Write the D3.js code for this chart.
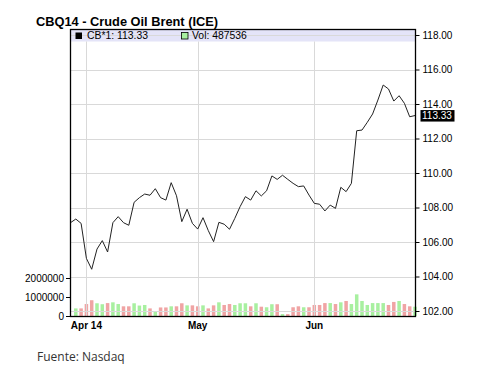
<!DOCTYPE html>
<html>
<head>
<meta charset="utf-8">
<script src="https://cdn.jsdelivr.net/npm/d3@7"></script>
<style>
  body { margin: 0; background: #fff; }
  svg text { font-family: "Liberation Sans", Arial, sans-serif; }
</style>
</head>
<body>
<div id="chart"></div>
<script>
// daily settlement, CBQ14 (late Mar .. late Jun 2014)
const prices = [107.12, 107.33, 107.08, 105.05, 104.42, 105.59, 106.08, 105.42, 107.12, 107.47,
  107.12, 106.97, 108.30, 108.57, 108.78, 108.71, 109.09, 108.57, 108.43, 109.44,
  108.68, 107.18, 107.90, 107.08, 106.75, 107.41, 106.66, 106.02, 107.14, 107.03,
  106.74, 107.37, 108.05, 108.63, 108.43, 108.97, 108.67, 108.97, 109.83, 109.63,
  109.87, 109.63, 109.40, 109.21, 109.25, 108.72, 108.24, 108.19, 107.80, 108.14,
  107.95, 109.17, 108.92, 109.40, 112.45, 112.49, 112.94, 113.42, 114.23, 115.10,
  114.87, 114.17, 114.48, 114.04, 113.26, 113.33]

const volumes = [null, 400000, 400000, 630000, 830000, 670000, 620000, 680000, 720000, 630000,
  510000, 510000, 670000, 550000, 580000, 400000, 230000, 450000, 450000, 510000,
  510000, 670000, 560000, 560000, 510000, 560000, 400000, 560000, 720000, 580000,
  630000, 580000, 670000, 670000, 510000, 670000, 490000, 460000, 620000, 620000,
  100000, 100000, 460000, 510000, 460000, 460000, 580000, 580000, 680000, 680000,
  630000, 720000, 790000, 630000, 1140000, 790000, 580000, 680000, 680000, 680000,
  580000, 740000, 790000, 630000, 510000, 487536]

const monthIdx = [3, 24, 46]
const monthLabels = ['Apr 14', 'May', 'Jun']
const priceTicks = [102, 104, 106, 108, 110, 112, 114, 116, 118]
const volTicks = [0, 1000000, 2000000]

const W = 480, H = 387
const m = {left: 70, right: 415, top: 29, bottom: 316}

const svg = d3.select('#chart').append('svg')
    .attr('width', W).attr('height', H)

svg.append('text')
    .attr('x', 36).attr('y', 25.5)
    .attr('font-size', 12.8).attr('font-weight', 'bold')
    .text('CBQ14 - Crude Oil Brent (ICE)')

const x = d3.scaleLinear().domain([0, prices.length - 1]).range([m.left + 0.5, m.right])
const y = d3.scaleLinear().domain([102, 118]).range([311, 35])
const yv = d3.scaleLinear().domain([0, 2000000]).range([m.bottom, 278])

// legend band
svg.append('rect')
    .attr('x', m.left).attr('y', m.top)
    .attr('width', m.right - m.left).attr('height', 12.5)
    .attr('fill', '#e4e4f8')

// volume bars
svg.append('g').selectAll('rect')
    .data(volumes.map((v, i) => ({v, i})).filter(d => d.v != null))
    .join('rect')
    .attr('x', d => x(d.i) - 1.75)
    .attr('width', 3.5)
    .attr('y', d => yv(d.v))
    .attr('height', d => m.bottom - yv(d.v))
    .attr('fill', d => prices[d.i] >= prices[d.i - 1] ? '#a8f0a0' : '#f0a4a4')

// grid
svg.append('g').selectAll('line')
    .data(priceTicks)
    .join('line')
    .attr('x1', m.left).attr('x2', m.right)
    .attr('y1', d => Math.round(y(d)) + 0.5).attr('y2', d => Math.round(y(d)) + 0.5)
    .attr('stroke', '#d9d9d9')

svg.append('g').selectAll('line')
    .data(monthIdx)
    .join('line')
    .attr('x1', d => Math.round(x(d)) + 0.5).attr('x2', d => Math.round(x(d)) + 0.5)
    .attr('y1', m.top + 12.5).attr('y2', m.bottom)
    .attr('stroke', '#d9d9d9')

// price line
const line = d3.line()
    .x((d, i) => x(i))
    .y(d => y(d))

svg.append('path')
    .datum(prices)
    .attr('d', line)
    .attr('fill', 'none')
    .attr('stroke', '#222')
    .attr('stroke-width', 1)

// frame
svg.append('rect')
    .attr('x', m.left + 0.5).attr('y', m.top + 0.5)
    .attr('width', m.right - m.left).attr('height', m.bottom - m.top)
    .attr('fill', 'none')
    .attr('stroke', '#000')
    .attr('stroke-width', 1.3)

// right price axis
const yAxis = d3.axisRight(y)
    .tickValues(priceTicks)
    .tickSize(4)
    .tickPadding(3)
    .tickFormat(d => d.toFixed(2))

svg.append('g')
    .attr('transform', `translate(${m.right + 0.5},0)`)
    .call(yAxis)
    .call(g => g.select('.domain').remove())
    .call(g => g.selectAll('text').attr('font-size', 10).attr('fill', '#000')
        .attr('font-family', '"Liberation Sans", Arial, sans-serif'))

// left volume axis
const vAxis = d3.axisLeft(yv)
    .tickValues(volTicks)
    .tickSize(4)
    .tickPadding(2)
    .tickFormat(d => d)

svg.append('g')
    .attr('transform', `translate(${m.left},0)`)
    .call(vAxis)
    .call(g => g.select('.domain').remove())
    .call(g => g.selectAll('text').attr('font-size', 10).attr('fill', '#000')
        .attr('font-family', '"Liberation Sans", Arial, sans-serif'))

// month labels
svg.append('g').selectAll('text')
    .data(monthIdx)
    .join('text')
    .attr('x', d => x(d))
    .attr('y', 328.5)
    .attr('text-anchor', 'middle')
    .attr('font-size', 10).attr('font-weight', 'bold')
    .text((d, i) => monthLabels[i])

// last value marker
const last = prices[prices.length - 1]
svg.append('rect')
    .attr('x', m.right + 5.5).attr('y', y(last) - 5.5)
    .attr('width', 34).attr('height', 11.5)
    .attr('fill', '#000')
svg.append('text')
    .attr('x', m.right + 7).attr('y', y(last))
    .attr('dy', '0.35em')
    .attr('font-size', 10).attr('fill', '#fff')
    .text(last.toFixed(2))

// legend
svg.append('rect')
    .attr('x', 75.5).attr('y', 32.5).attr('width', 6.5).attr('height', 6.5)
    .attr('fill', '#000')
svg.append('text')
    .attr('x', 87).attr('y', 39)
    .attr('font-size', 10.4)
    .text('CB*1: ' + last.toFixed(2))
svg.append('rect')
    .attr('x', 181.5).attr('y', 32.5).attr('width', 6.5).attr('height', 6.5)
    .attr('fill', '#a8f0a0').attr('stroke', '#000').attr('stroke-width', 0.8)
svg.append('text')
    .attr('x', 192).attr('y', 39)
    .attr('font-size', 10.4)
    .text('Vol: ' + volumes[volumes.length - 1])

// source
svg.append('text')
    .attr('x', 37).attr('y', 361)
    .attr('font-size', 12)
    .attr('fill', '#333')
    .style('font-family', '"Open Sans", "Noto Sans", sans-serif')
    .text('Fuente: Nasdaq')
</script>
</body>
</html>
